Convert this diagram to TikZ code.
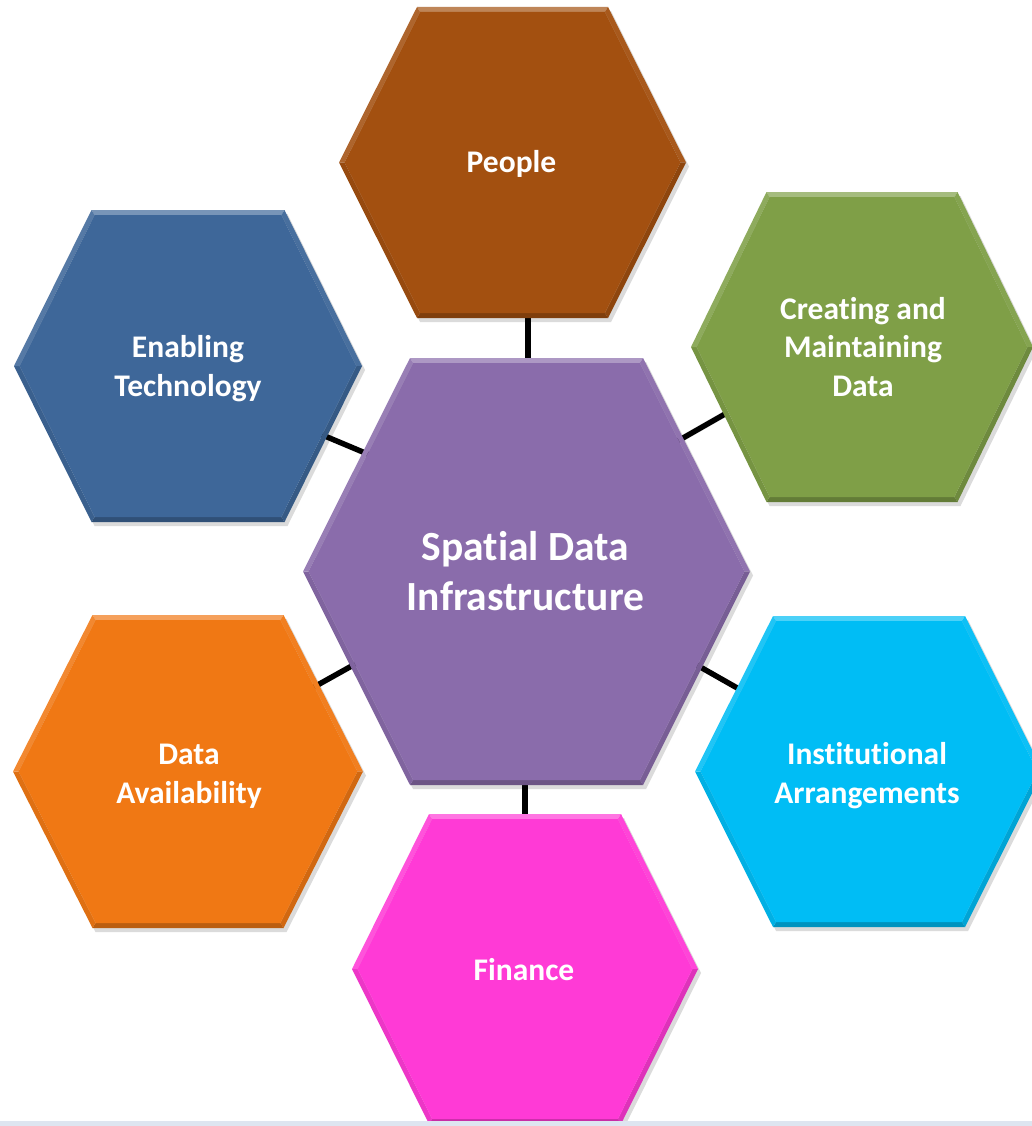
\documentclass[tikz,border=0pt]{standalone}
\usepackage{fontspec}
\setmainfont{Carlito}[Ligatures={NoCommon}]
\definecolor{cPeople}{HTML}{A35010}
\definecolor{cCreate}{HTML}{7F9F47}
\definecolor{cEnable}{HTML}{3E6799}
\definecolor{cAvail}{HTML}{F07814}
\definecolor{cInst}{HTML}{00BDF5}
\definecolor{cFin}{HTML}{FF3AD6}
\definecolor{cSDI}{HTML}{8A6CAB}
\definecolor{cStrip}{HTML}{DEE5F0}
\newcommand\bev{5}
% name, cx, cy, hw, hh, he, colour
\newcommand\hexcell[7]{%
 \begin{scope}[shift={(#2,#3)}]
  \fill[black,opacity=.14] ({-#6+3},{-#5+4}) -- ({#6+3},{-#5+4}) -- ({#4+3},4) -- ({#6+3},{#5+4}) -- ({-#6+3},{#5+4}) -- ({-#4+3},4) -- cycle;
  \coordinate (#1o1) at ({-#6},{-#5});
  \coordinate (#1o2) at ({#6},{-#5});
  \coordinate (#1o3) at ({#4},0);
  \coordinate (#1o4) at ({#6},{#5});
  \coordinate (#1o5) at ({-#6},{#5});
  \coordinate (#1o6) at ({-#4},0);
  \coordinate (#1i1) at ({-#6+0.62*\bev},{-#5+\bev});
  \coordinate (#1i2) at ({#6-0.62*\bev},{-#5+\bev});
  \coordinate (#1i3) at ({#4-1.12*\bev},0);
  \coordinate (#1i4) at ({#6-0.62*\bev},{#5-\bev});
  \coordinate (#1i5) at ({-#6+0.62*\bev},{#5-\bev});
  \coordinate (#1i6) at ({-#4+1.12*\bev},0);
  \fill[#7!70!white] (#1o1) -- (#1o2) -- (#1i2) -- (#1i1) -- cycle;
  \fill[#7!95!white] (#1o2) -- (#1o3) -- (#1i3) -- (#1i2) -- cycle;
  \fill[#7!87!black] (#1o3) -- (#1o4) -- (#1i4) -- (#1i3) -- cycle;
  \fill[#7!78!black] (#1o4) -- (#1o5) -- (#1i5) -- (#1i4) -- cycle;
  \fill[#7!93!black] (#1o5) -- (#1o6) -- (#1i6) -- (#1i5) -- cycle;
  \fill[#7!88!white] (#1o6) -- (#1o1) -- (#1i1) -- (#1i6) -- cycle;
  \fill[#7] (#1i1) -- (#1i2) -- (#1i3) -- (#1i4) -- (#1i5) -- (#1i6) -- cycle;
 \end{scope}}
\begin{document}
\begin{tikzpicture}[x=1pt,y=-1pt,
  conn/.style={line width=5.5pt,black},
  lbl/.style={text=white,font=\bfseries\fontsize{31.5}{38.5}\selectfont,align=center,inner sep=0pt},
  biglbl/.style={lbl,font=\bfseries\fontsize{41.5}{50}\selectfont}]
\useasboundingbox (0,0) rectangle (1032,1126);
\fill[white] (0,0) rectangle (1032,1126);
% connector end points
\coordinate (kP1) at (528,310);   \coordinate (kP2) at (528,366);
\coordinate (kE1) at (320,434);   \coordinate (kE2) at (370,455);
\coordinate (kC1) at (676,442);   \coordinate (kC2) at (725,414);
\coordinate (kA1) at (314,687);   \coordinate (kA2) at (357,663);
\coordinate (kI1) at (695,664);   \coordinate (kI2) at (739,689);
\coordinate (kF1) at (525,778);   \coordinate (kF2) at (525,820);
\draw[conn] (kP1) -- (kP2);
\draw[conn] (kE1) -- (kE2);
\draw[conn] (kC1) -- (kC2);
\draw[conn] (kA1) -- (kA2);
\draw[conn] (kI1) -- (kI2);
\draw[conn] (kF1) -- (kF2);
% hexagons
\hexcell{hP}{512.5}{162.5}{173.5}{155.5}{95.5}{cPeople}
\hexcell{hE}{188}{366}{174}{156}{96.5}{cEnable}
\hexcell{hC}{862}{347}{171}{155}{95.5}{cCreate}
\hexcell{hA}{188}{771.5}{175}{156.5}{95.5}{cAvail}
\hexcell{hI}{869}{771.5}{174}{155.5}{96}{cInst}
\hexcell{hF}{525}{969}{173}{155}{96}{cFin}
\hexcell{hS}{526.5}{571.5}{223.5}{213.5}{116.5}{cSDI}
% labels
\node[lbl,anchor=base] (tP) at (511.5,173) {People};
\node[lbl] (tE) at (188,368.5) {Enabling\\Technology};
\node[lbl] (tC) at (863,347) {Creating and\\Maintaining\\Data};
\node[lbl] (tA) at (189,776.5) {Data\\Availability};
\node[lbl] (tI) at (867,775.5) {Institutional\\Arrangements};
\node[lbl,anchor=base] (tF) at (524,980) {Finance};
\node[biglbl] (tS) at (525.5,571) {Spatial Data\\Infrastructure};
\fill[cStrip] (0,1121) rectangle (1032,1126);
\end{tikzpicture}
\end{document}
